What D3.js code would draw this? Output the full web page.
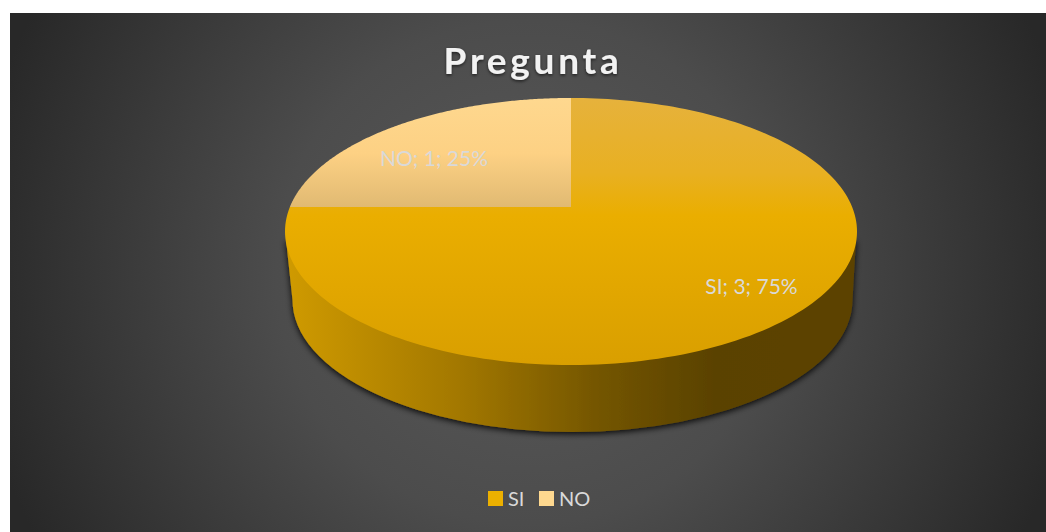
<!DOCTYPE html>
<html>
<head>
<meta charset="utf-8">
<script src="https://cdn.jsdelivr.net/npm/d3@7"></script>
<style>
    html, body { margin: 0; padding: 0; background: #fff; }
    svg { display: block; }
    text { font-family: Lato, sans-serif; }
</style>
</head>
<body>
<div id="chart"></div>
<script>
const categories = ["SI", "NO"];
const values = [3, 1];
const percents = ["75%", "25%"];
const chartTitle = "Pregunta";

const w = 1046, h = 532;
const panel = { x: 10, y: 13, w: 1036, h: 519 };

// top face ellipse, the slices meet at an off-centre point (perspective)
const face = { cx: 571, cy: 231.5, rx: 286, ry: 133.5 };
const apex = { x: 571, y: 207 };
const base = { cx: 572.5, cy: 300, rx: 280, ry: 132 };

const svg = d3.select("#chart").append("svg")
    .attr("width", w)
    .attr("height", h);

const defs = svg.append("defs");

const addGradient = (id, tag, attrs, stops) => {
    const g = defs.append(tag).attr("id", id).attr("gradientUnits", "userSpaceOnUse");
    Object.entries(attrs).forEach(([k, v]) => g.attr(k, v));
    stops.forEach(s => g.append("stop").attr("offset", s[0]).attr("stop-color", s[1]));
};

addGradient("bg", "radialGradient", { cx: 528, cy: 272, r: 560 }, [
    [0, "#5a5a5a"], [0.45, "#4c4c4c"], [1, "#282828"]
]);
addGradient("fill-SI", "linearGradient", { x1: 0, y1: 98, x2: 0, y2: 365 }, [
    [0, "#e6b23c"], [0.28, "#e8b022"], [0.44, "#eaae00"], [1, "#d99f00"]
]);
addGradient("fill-NO", "linearGradient", { x1: 0, y1: 98, x2: 0, y2: 208 }, [
    [0, "#fed88f"], [0.5, "#fdd184"], [1, "#e0b972"]
]);
addGradient("wall", "linearGradient", { x1: 288, y1: 0, x2: 856, y2: 0 }, [
    [0, "#cf9a00"], [0.3, "#a37800"], [0.55, "#735500"], [0.75, "#5a4200"], [1, "#5c4300"]
]);
addGradient("key-SI", "linearGradient", { x1: 0, y1: 491, x2: 0, y2: 506 }, [
    [0, "#ecb000"], [1, "#e0a400"]
]);
addGradient("key-NO", "linearGradient", { x1: 0, y1: 491, x2: 0, y2: 506 }, [
    [0, "#fed88f"], [1, "#e6be78"]
]);

const shadow = defs.append("filter").attr("id", "wall-shadow")
    .attr("x", "-10%").attr("y", "-10%").attr("width", "120%").attr("height", "125%");
shadow.append("feDropShadow")
    .attr("dx", 0).attr("dy", 2).attr("stdDeviation", 3)
    .attr("flood-color", "#000").attr("flood-opacity", 0.9);

const titleShadow = defs.append("filter").attr("id", "title-shadow");
titleShadow.append("feDropShadow")
    .attr("dx", 0).attr("dy", 1.5).attr("stdDeviation", 1.5)
    .attr("flood-color", "#000").attr("flood-opacity", 0.6);

svg.append("rect")
    .attr("x", panel.x).attr("y", panel.y)
    .attr("width", panel.w).attr("height", panel.h)
    .attr("fill", "url(#bg)");

svg.append("text")
    .attr("x", 533).attr("y", 74)
    .attr("text-anchor", "middle")
    .attr("font-size", 37)
    .attr("font-weight", 700)
    .attr("letter-spacing", 3.7)
    .attr("fill", "#f2f2f2")
    .attr("filter", "url(#title-shadow)")
    .text(chartTitle);

// side wall: lower ellipse plus the band up to the top face
const wallTop = face.cy + 8;
svg.append("path")
    .attr("d", `M${face.cx - face.rx + 1},${wallTop}
        L${base.cx - base.rx},${base.cy}
        A${base.rx},${base.ry} 0 0 0 ${base.cx + base.rx},${base.cy}
        L${face.cx + face.rx - 1},${wallTop} Z`)
    .attr("fill", "url(#wall)")
    .attr("filter", "url(#wall-shadow)");

// where a pie angle lands on the top ellipse, cast from the apex
const rim = (a) => {
    const dx = Math.sin(a) * face.rx, dy = -Math.cos(a) * face.ry;
    const ox = (apex.x - face.cx) / face.rx, oy = (apex.y - face.cy) / face.ry;
    const ux = dx / face.rx, uy = dy / face.ry;
    const A = ux * ux + uy * uy, B = 2 * (ox * ux + oy * uy), C = ox * ox + oy * oy - 1;
    const t = (-B + Math.sqrt(B * B - 4 * A * C)) / (2 * A);
    return [apex.x + dx * t, apex.y + dy * t];
};

const pie = d3.pie().value(d => d).sort(null);
const arcs = pie(values);
const line = d3.line();

const slicePath = (d) => {
    const pts = [[apex.x, apex.y]];
    const steps = 180;
    for (let i = 0; i <= steps; i++) {
        pts.push(rim(d.startAngle + (d.endAngle - d.startAngle) * i / steps));
    }
    return line(pts) + "Z";
};

svg.append("g").selectAll("path")
    .data(arcs)
    .join("path")
    .attr("d", slicePath)
    .attr("fill", (d, i) => `url(#fill-${categories[i]})`);

const labelPos = [[751.5, 294], [434, 166]];
svg.append("g").selectAll("text")
    .data(arcs)
    .join("text")
    .attr("x", (d, i) => labelPos[i][0])
    .attr("y", (d, i) => labelPos[i][1])
    .attr("text-anchor", "middle")
    .attr("font-size", 21)
    .attr("fill", "#d9d9d9")
    .text((d, i) => `${categories[i]}; ${values[i]}; ${percents[i]}`);

// legend
const keyX = [488, 539];
const legend = svg.append("g").selectAll("g")
    .data(categories)
    .join("g")
    .attr("transform", (d, i) => `translate(${keyX[i]},491)`);

legend.append("rect")
    .attr("width", 15).attr("height", 15)
    .attr("fill", d => `url(#key-${d})`);

legend.append("text")
    .attr("x", 20).attr("y", 14.5)
    .attr("font-size", 20)
    .attr("fill", "#d9d9d9")
    .text(d => d);
</script>
</body>
</html>
